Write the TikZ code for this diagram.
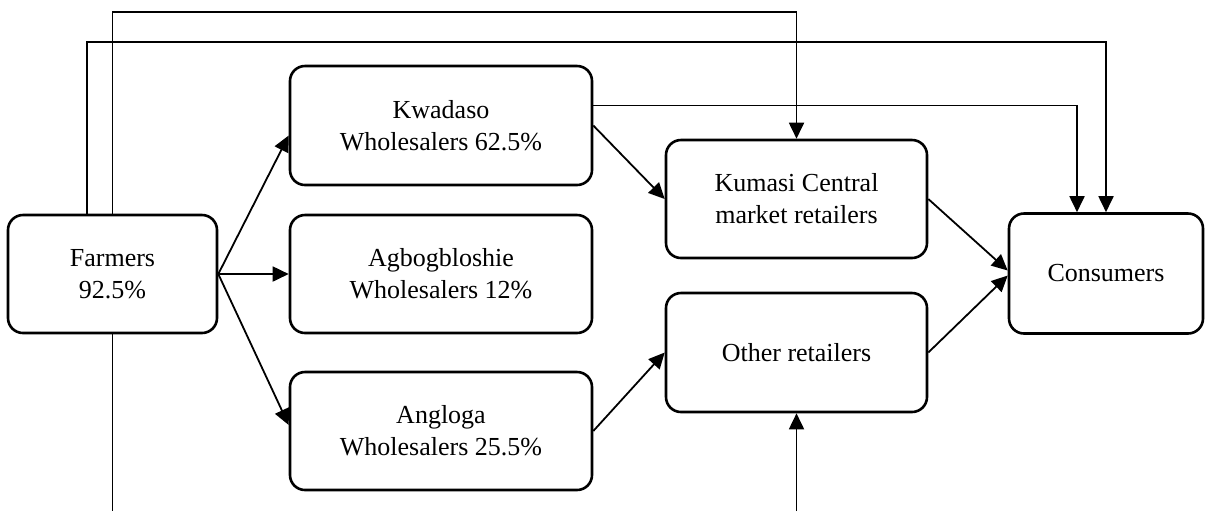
\documentclass[tikz,border=0pt]{standalone}
\usepackage{fontspec}
\setmainfont{Liberation Serif}
\usetikzlibrary{arrows.meta}

\tikzset{every picture/.style={line width=0.9pt}}
\tikzset{
  stage/.style={draw,rounded corners=7.5pt,line width=1.3pt,align=center,
    inner sep=0pt,font=\fontsize{13}{16}\selectfont},
  flow/.style={-{Triangle[length=8pt,width=7.5pt]}}
}

\begin{document}
\begin{tikzpicture}[x=0.5pt,y=-0.5pt]
        \useasboundingbox (0,0) rectangle (1209,511);
        % chain members
        \node[stage,minimum width=104.5pt,minimum height=59pt] (farmers) at (112.5,274) {Farmers\\92.5\%};
        \node[stage,minimum width=151pt,minimum height=59.5pt] (kwadaso) at (441,125.5) {Kwadaso\\Wholesalers 62.5\%};
        \node[stage,minimum width=151pt,minimum height=59pt] (agbog) at (441,274) {Agbogbloshie\\Wholesalers 12\%};
        \node[stage,minimum width=151pt,minimum height=59pt] (angloga) at (441,431) {Angloga\\Wholesalers 25.5\%};
        \node[stage,minimum width=130.5pt,minimum height=59pt] (kumasi) at (796.5,199) {Kumasi Central\\market retailers};
        \node[stage,minimum width=130.5pt,minimum height=59.5pt] (other) at (796.5,352.5) {Other retailers};
        \node[stage,minimum width=97pt,minimum height=60pt] (consumers) at (1106,273.5) {Consumers};
        % flows
        \draw[flow] (farmers.east) -- ([yshift=-5pt]kwadaso.west);
        \draw[flow] (farmers.east) -- (agbog.west);
        \draw[flow] (farmers.east) -- ([yshift=3pt]angloga.west);
        \draw[flow] (kwadaso.east) -- (kumasi.west);
        \draw[flow] (angloga.east) -- (other.west);
        \draw[flow] (kumasi.east) -- ([yshift=1.5pt]consumers.west);
        \draw[flow] (other.east) -- ([yshift=-1pt]consumers.west);
        \draw[flow] ([yshift=10pt]kwadaso.east) -| ([xshift=-14.5pt]consumers.north);
        \draw[flow] (farmers.north) -- ++(0,-202) -| (kumasi.north);
        \draw[flow] ([xshift=-12.75pt]farmers.north) -- ++(0,-172) -| (consumers.north);
        \draw (farmers.south) -- (farmers.south |- 0,511);
        \draw[flow] (other.south |- 0,511) -- (other.south);
    \end{tikzpicture}
\end{document}
